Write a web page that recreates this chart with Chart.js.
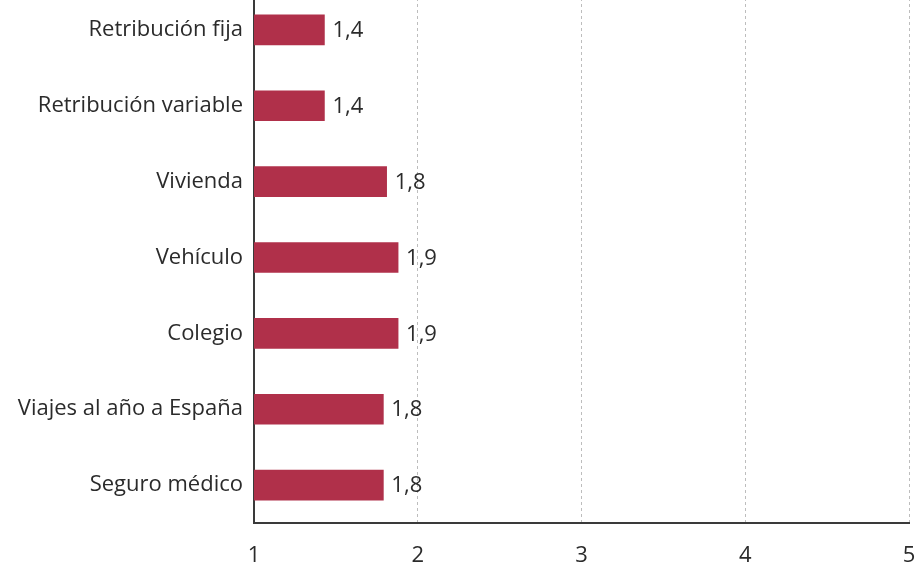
<!DOCTYPE html>
<html lang="es">
<head>
    <meta charset="UTF-8">
    <title>Beneficios</title>
    <script src="https://cdn.jsdelivr.net/npm/chart.js"></script>
    <style>
        html, body {
            margin: 0;
            padding: 0;
            background: #ffffff;
        }

        .wrap {
            position: relative;
            width: 916px;
            height: 569px;
            overflow: hidden;
        }

        #chart {
            position: absolute;
            left: 0;
            top: -8px;
        }
    </style>
</head>
<body>
<div class="wrap">
    <canvas id="chart" width="916" height="577"></canvas>
</div>

<script>
    const categories = ['Retribución fija', 'Retribución variable', 'Vivienda', 'Vehículo', 'Colegio', 'Viajes al año a España', 'Seguro médico'];
    const values = [1.43, 1.43, 1.81, 1.88, 1.88, 1.79, 1.79];
    const xTicks = [1, 2, 3, 4, 5];

    const barColor = '#B0304A';
    const textColor = '#2b2b2b';
    const fontFamily = '"Open Sans", Lato, sans-serif';

    // value labels at the end of each bar
    const valueLabels = {
        id: 'valueLabels',
        afterDatasetsDraw(chart) {
            const ctx = chart.ctx;
            const meta = chart.getDatasetMeta(0);
            ctx.save();
            ctx.font = '22px ' + fontFamily;
            ctx.fillStyle = textColor;
            ctx.textAlign = 'left';
            ctx.textBaseline = 'middle';
            meta.data.forEach((bar, i) => {
                const txt = values[i].toFixed(1).replace('.', ',');
                ctx.fillText(txt, bar.x + 8, bar.y + 1);
            });
            ctx.restore();
        }
    };

    new Chart(document.getElementById('chart').getContext('2d'), {
        type: 'bar',
        data: {
            labels: categories,
            datasets: [{
                data: values,
                backgroundColor: barColor,
                barThickness: 30
            }]
        },
        options: {
            indexAxis: 'y',
            responsive: false,
            animation: false,
            layout: {
                padding: {top: 0, right: 7, bottom: 0, left: 0}
            },
            plugins: {
                legend: {display: false},
                tooltip: {enabled: false}
            },
            scales: {
                x: {
                    min: 1,
                    max: 5,
                    afterBuildTicks: scale => {
                        scale.ticks = xTicks.map(v => ({value: v}));
                    },
                    border: {display: true, color: '#3a3a3a', width: 2, dash: [3, 3]},
                    grid: {
                        color: ctx => ctx.tick && ctx.tick.value === 1 ? 'rgba(0,0,0,0)' : '#bdbdbd',
                        lineWidth: 1,
                        drawTicks: false
                    },
                    ticks: {
                        color: textColor,
                        padding: 20,
                        font: {family: fontFamily, size: 22}
                    },
                    afterFit: scale => {
                        scale.height = 46;
                        scale.paddingLeft = 0;
                        scale.paddingRight = 0;
                    }
                },
                y: {
                    border: {display: true, color: '#3a3a3a', width: 2},
                    grid: {display: false, drawTicks: false},
                    ticks: {
                        color: textColor,
                        padding: 11,
                        font: {family: fontFamily, size: 22}
                    },
                    afterFit: scale => {
                        scale.width = 254;
                        scale.paddingTop = 0;
                        scale.paddingBottom = 0;
                    }
                }
            }
        },
        plugins: [valueLabels]
    });
</script>
</body>
</html>
